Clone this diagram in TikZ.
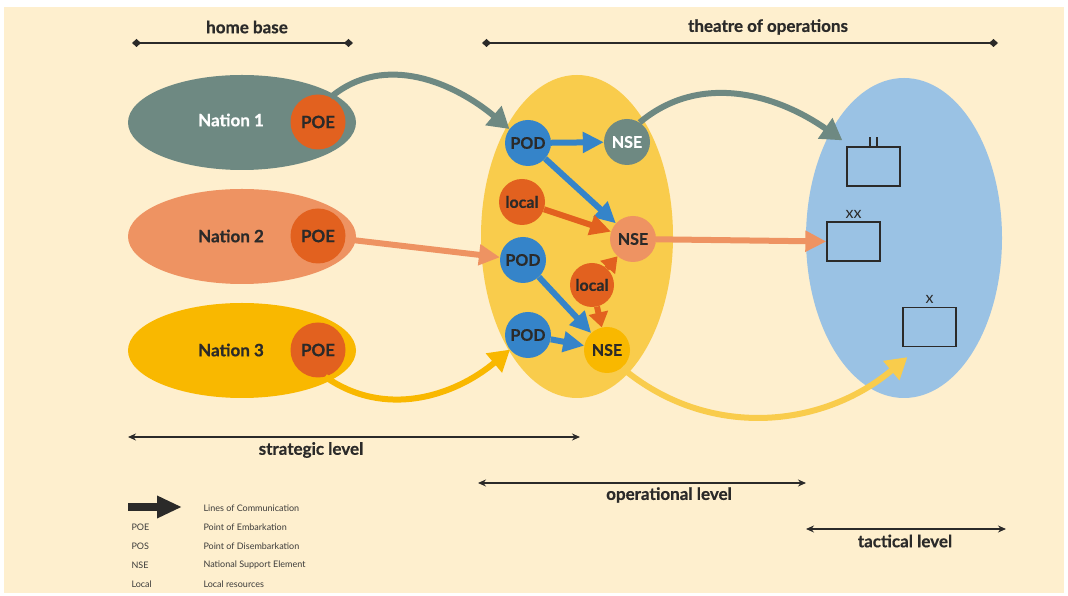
\documentclass[tikz,border=0pt]{standalone}
\usepackage{fontspec}
\setmainfont{Lato}[BoldFeatures={FakeBold=0.6}]
\usetikzlibrary{arrows.meta,shapes.geometric}

\definecolor{cream}{HTML}{FEEFCE}
\definecolor{txtdark}{HTML}{2B2A29}
\definecolor{txtgrey}{HTML}{3C3B3A}
\definecolor{natgrey}{HTML}{6E8982}
\definecolor{natsalmon}{HTML}{EE9362}
\definecolor{natyellow}{HTML}{F9B800}
\definecolor{poeorange}{HTML}{E2611F}
\definecolor{opyellow}{HTML}{F9CC4C}
\definecolor{podblue}{HTML}{3584C9}
\definecolor{tacblue}{HTML}{9AC2E4}

\begin{document}
\begin{tikzpicture}[x=1pt,y=1pt,
  every node/.style={font=\bfseries\fontsize{17}{17}\selectfont, text=txtdark},
  blob/.style={ellipse, inner sep=0pt},
  nationblob/.style={blob, minimum width=228pt, minimum height=95pt},
  dot/.style={circle, inner sep=0pt, minimum size=46pt, font=\bfseries\fontsize{16}{16}\selectfont},
  poe/.style={circle, fill=poeorange, inner sep=0pt, minimum size=55pt},
  unitbox/.style={draw=txtdark, line width=1.3pt, minimum width=53pt, minimum height=39pt, inner sep=0pt},
  loc/.style={line width=6pt, -{Triangle[length=21pt,width=20pt]}},
  shortloc/.style={line width=6pt, -{Triangle[length=15pt,width=19pt]}},
  curveloc/.style={line width=6pt, -{Triangle[length=21pt,width=24pt]}},
  spanline/.style={line width=1.2pt, draw=txtdark, {Diamond[length=9pt,width=8pt]}-{Diamond[length=9pt,width=8pt]}},
  levelline/.style={line width=1.2pt, draw=txtdark, {Stealth[length=8pt,width=7pt]}-{Stealth[length=8pt,width=7pt]}},
  legend/.style={font=\fontsize{9}{9}\selectfont, anchor=west, text=txtgrey},
  echelon/.style={font=\fontsize{16}{16}\selectfont}
]

\useasboundingbox (0,0) rectangle (1068,596);
\fill[cream] (4,3) rectangle (1064,589);

\coordinate (hbL) at (132,553);
\coordinate (hbR) at (353,553);
\coordinate (thL) at (482,553);
\coordinate (thR) at (998,553);
\draw[spanline] (hbL) -- (hbR);
\draw[spanline] (thL) -- (thR);
\node at (247,569) (homebase) {home base};
\node at (768,569) (theatre) {theatre of operations};

\node at (242,473.5) [nationblob,fill=natgrey] (natA) {};
\node at (242,359.5) [nationblob,fill=natsalmon] (natB) {};
\node at (242,245.5) [nationblob,fill=natyellow] (natC) {};
\node at (231,476) [text=white] (natAtxt) {Nation 1};
\node at (231,360) (natBtxt) {Nation 2};
\node at (231,246) (natCtxt) {Nation 3};

\node at (318,474) [poe] (poeA) {POE};
\node at (318,360) [poe] (poeB) {POE};
\node at (318,246) [poe] (poeC) {POE};

\node at (577,359.5) [blob,fill=opyellow,minimum width=192pt,minimum height=323pt] (opzone) {};
\node at (904,358) [blob,fill=tacblue,minimum width=196pt,minimum height=320pt] (taczone) {};

\node at (528,453) [dot,fill=podblue] (podA) {POD};
\node at (523,336) [dot,fill=podblue] (podB) {POD};
\node at (528,261) [dot,fill=podblue] (podC) {POD};
\node at (627,454) [dot,fill=natgrey,text=white] (nseA) {NSE};
\node at (633,357) [dot,fill=natsalmon] (nseB) {NSE};
\node at (607,246) [dot,fill=natyellow] (nseC) {NSE};
\node at (522,394) [dot,fill=poeorange] (localA) {local};
\node at (592,311) [dot,fill=poeorange,minimum size=44pt] (localB) {local};

\node at (873.5,429.5) [unitbox] (boxA) {};
\node at (853.5,354.5) [unitbox] (boxB) {};
\node at (929.5,269) [unitbox] (boxC) {};
\draw[line width=1.3pt,draw=txtdark] ([xshift=-3.5pt]boxA.north) -- ++(0,9);
\draw[line width=1.3pt,draw=txtdark] ([xshift=3.5pt]boxA.north) -- ++(0,9);
\node at ([yshift=7pt]boxB.north) [echelon] (xxB) {xx};
\node at ([yshift=7pt]boxC.north) [echelon] (xC) {x};

\draw[loc,podblue] (podA) -- (nseA);
\draw[loc,podblue] (podA) -- (nseB);
\draw[loc,podblue] (podB) -- (nseC);
\draw[loc,podblue] (podC) -- (nseC);
\draw[loc,poeorange] (localA) -- (nseB);
\draw[shortloc,poeorange] (localB) -- (nseB);
\draw[shortloc,poeorange] (localB) -- (nseC);

\draw[loc,natsalmon] (poeB) -- (podB);
\draw[loc,natsalmon] (nseB) -- (boxB.west);
\draw[curveloc,natgrey] (poeA.63) to[out=40,in=140] (podA.143);
\draw[curveloc,natgrey] (nseA.57) to[out=40,in=145] ([xshift=-4pt,yshift=6pt]boxA.north west);
\draw[curveloc,natyellow] (poeC.-75) to[out=-35,in=-140] (podC.219);
\draw[curveloc,opyellow] (nseC.-50) to[out=-40,in=-140] ([xshift=5pt,yshift=-10pt]boxC.south west);

\coordinate (stL) at (128,159);
\coordinate (stR) at (580,159);
\coordinate (opL) at (478,113);
\coordinate (opR) at (806,113);
\coordinate (taL) at (806,67);
\coordinate (taR) at (1006,67);
\draw[levelline] (stL) -- (stR);
\draw[levelline] (opL) -- (opR);
\draw[levelline] (taL) -- (taR);
\node at (311,146) (strategic) {strategic level};
\node at (669,101) (operational) {operational level};
\node at (905,55) (tactical) {tactical level};

\coordinate (legL) at (128,89);
\coordinate (legR) at (182,89);
\draw[line width=8pt,draw=txtdark,-{Triangle[length=25pt,width=21pt]}] (legL) -- (legR);
\node at (200,88) [legend] (legloc) {Lines of Communication};
\node at (128,69) [legend] (legpoe) {POE};
\node at (200,69) [legend] (legpoetxt) {Point of Embarkation};
\node at (128,50) [legend] (legpos) {POS};
\node at (200,50) [legend] (legpostxt) {Point of Disembarkation};
\node at (128,31) [legend] (legnse) {NSE};
\node at (200,31) [legend] (legnsetxt) {National Support Element};
\node at (128,12) [legend] (legloc2) {Local};
\node at (200,12) [legend] (legloctxt) {Local resources};

\end{tikzpicture}
\end{document}
